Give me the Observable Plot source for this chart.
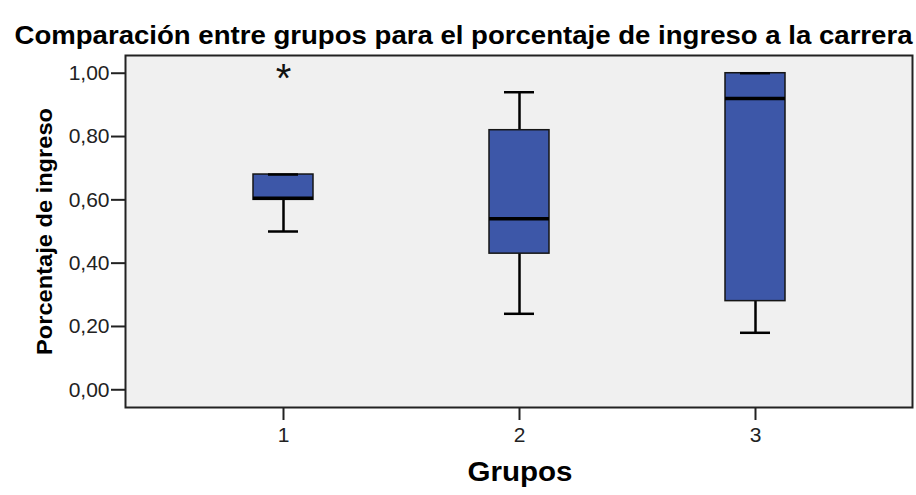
<!DOCTYPE html>
<html><head><meta charset="utf-8">
<script src="https://cdn.jsdelivr.net/npm/d3@7"></script>
<script src="https://cdn.jsdelivr.net/npm/@observablehq/plot@0.6"></script>
<style>body{margin:0;background:#fff;} svg{display:block}</style>
</head><body><div id="chart"></div>
<script>
const title = "Comparación entre grupos para el porcentaje de ingreso a la carrera";
const groups = ["1", "2", "3"];
const whiskerLow = [0.50, 0.24, 0.18];
const q1 = [0.60, 0.43, 0.28];
const median = [0.605, 0.54, 0.92];
const q3 = [0.68, 0.82, 1.00];
const whiskerHigh = [0.68, 0.94, 1.00];
const outlierGroups = ["1"];
const outlierValues = [1.00];
const yTicks = [0, 0.2, 0.4, 0.6, 0.8, 1.0];
const xLabel = "Grupos";
const yLabel = "Porcentaje de ingreso";

const boxes = groups.map((g, i) => ({g, lo: whiskerLow[i], q1: q1[i], med: median[i], q3: q3[i], hi: whiskerHigh[i]}));
const outliers = outlierGroups.map((g, i) => ({g, v: outlierValues[i]}));
const fmt = d => d3.format(".2f")(d).replace(".", ",");
const font = "'Liberation Sans', Arial, sans-serif";

const chart = Plot.plot({
  width: 916, height: 495,
  marginLeft: 125, marginRight: 4, marginTop: 55, marginBottom: 88,
  style: {fontFamily: font, background: "#fff", overflow: "visible", color: "#222"},
  x: {type: "band", domain: groups, paddingInner: 0.746, paddingOuter: 0.537, align: 0.503, label: null},
  y: {domain: [-0.056, 1.056], label: null},
  marks: [
    Plot.frame({fill: "#f0f0f0"}),
    Plot.ruleX(boxes, {x: "g", y1: "lo", y2: "hi", stroke: "#000", strokeWidth: 2.5}),
    Plot.barY(boxes, {x: "g", y1: "q1", y2: "q3", fill: "#3d57a8", stroke: "#151515", strokeWidth: 1.5}),
    Plot.tickY(boxes, {x: "g", y: "lo", inset: 15, stroke: "#000", strokeWidth: 2.5}),
    Plot.tickY(boxes, {x: "g", y: "hi", inset: 15, stroke: "#000", strokeWidth: 2.5}),
    Plot.tickY(boxes, {x: "g", y: "med", stroke: "#000", strokeWidth: 3.5}),
    Plot.text(outliers, {x: "g", y: "v", text: () => "*", fontSize: 40, dy: 6, fill: "#111"}),
    Plot.axisY({ticks: yTicks, tickFormat: fmt, tickSize: 14, tickPadding: 2, fontSize: 21, strokeWidth: 2, label: null}),
    Plot.axisX({tickSize: 13, tickPadding: 7, fontSize: 21, strokeWidth: 2, label: null}),
    Plot.text([yLabel], {text: d => d, frameAnchor: "left", textAnchor: "middle", rotate: -90, dx: -81, fontWeight: "bold", fontSize: 22, fill: "#000"}),
    Plot.text([xLabel], {text: d => d, frameAnchor: "bottom", dx: 1, dy: 73, fontWeight: "bold", fontSize: 28, fill: "#000"}),
    Plot.text([title], {text: d => d, frameAnchor: "top", dx: -55.5, dy: -30.3, fontWeight: "bold", fontSize: 26, fill: "#000"}),
    Plot.frame({stroke: "#222", strokeWidth: 2})
  ]
});
document.getElementById("chart").appendChild(chart);
const fit = (s, len) => d3.select(chart).selectAll("text").filter(function() { return this.textContent === s; })
  .attr("textLength", len).attr("lengthAdjust", "spacingAndGlyphs");
fit(title, 898);
fit(yLabel, 247);
fit(xLabel, 105);
</script>
</body></html>
